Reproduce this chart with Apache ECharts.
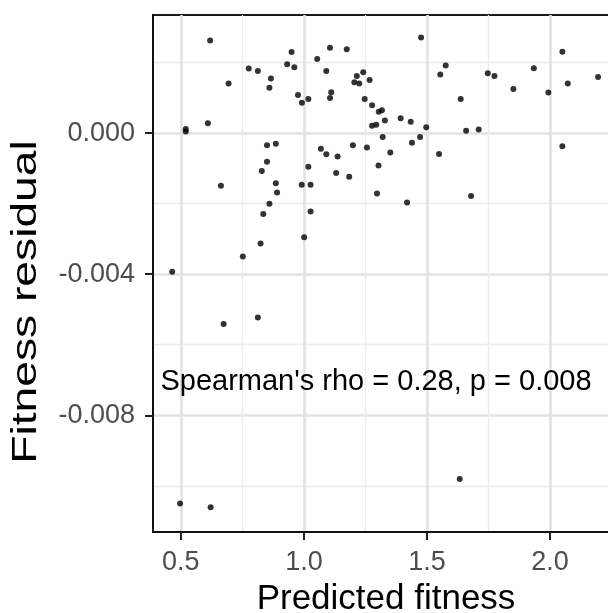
<!DOCTYPE html>
<html>
<head>
<meta charset="utf-8">
<script src="https://cdn.jsdelivr.net/npm/echarts@6/dist/echarts.min.js"></script>
<style>
html,body{margin:0;padding:0;background:#fff;}
#chart{width:608px;height:613px;}
</style>
</head>
<body>
<div id="chart"></div>
<script>
// Predicted fitness (x) and fitness residual (y)
const predictedFitness = [
  0.619, 0.950, 1.106, 1.174, 1.054, 0.932, 0.961, 0.776, 0.813, 1.091,
  0.866, 0.860, 0.694, 1.215, 1.241, 1.205, 1.225, 1.267, 0.976, 0.992,
  1.018, 1.111, 1.106, 1.247, 1.277, 1.304, 1.317, 0.520, 0.520, 0.610,
  1.277, 1.294, 0.850, 0.886, 0.850, 0.829, 1.069, 1.091, 1.137, 1.199,
  1.256, 1.018, 1.131, 1.184, 1.303, 0.663, 0.886, 0.891, 0.991, 1.027,
  1.297, 1.476, 2.050, 1.576, 1.554, 1.747, 1.774, 1.934, 2.195, 2.072,
  1.851, 1.993, 1.637, 1.329, 1.393, 1.434, 1.497, 1.659, 1.710, 1.320,
  1.472, 1.439, 2.050, 1.351, 1.549, 1.679, 0.860, 0.835, 1.027, 0.824,
  0.752, 1.001, 0.465, 0.813, 0.674, 1.419, 0.497, 0.621, 1.633
];
const fitnessResidual = [
  0.00263, 0.00230, 0.00242, 0.00238, 0.00210, 0.00195, 0.00187, 0.00183, 0.00176, 0.00176,
  0.00155, 0.00129, 0.00141, 0.00162, 0.00173, 0.00144, 0.00141, 0.00151, 0.00108, 0.00086,
  0.00097, 0.00116, 0.00100, 0.00097, 0.00079, 0.00061, 0.00065, 0.00012, 0.00005, 0.00028,
  0.00021, 0.00024, -0.00034, -0.00030, -0.00081, -0.00107, -0.00044, -0.00060, -0.00066, -0.00034,
  -0.00041, -0.00095, -0.00113, -0.00124, -0.00092, -0.00149, -0.00142, -0.00168, -0.00146, -0.00146,
  -0.00171, 0.00271, 0.00231, 0.00192, 0.00166, 0.00170, 0.00162, 0.00184, 0.00159, 0.00141,
  0.00125, 0.00115, 0.00097, 0.00036, 0.00042, 0.00032, 0.00017, 0.00007, 0.00010, -0.00011,
  -0.00011, -0.00027, -0.00037, -0.00055, -0.00059, -0.00178, -0.00200, -0.00229, -0.00222, -0.00313,
  -0.00350, -0.00295, -0.00393, -0.00523, -0.00541, -0.00197, -0.01050, -0.01061, -0.00981
];
const xMajorTicks = [0.5, 1.0, 1.5, 2.0];
const xMinorTicks = [0.75, 1.25, 1.75, 2.25];
const yMajorTicks = [0.000, -0.004, -0.008];
const yMinorTicks = [0.002, -0.002, -0.006, -0.010];
const xTitle = 'Predicted fitness';
const yTitle = 'Fitness residual';
const annotationText = "Spearman's rho = 0.28, p = 0.008";

const points = predictedFitness.map((x, i) => [x, fitnessResidual[i]]);

const FONT = '"Liberation Sans", Arial, Helvetica, sans-serif';
const X_MIN = 0.387, X_MAX = 2.28, Y_MIN = -0.01131, Y_MAX = 0.00335;

const chart = echarts.init(document.getElementById('chart'), null, {renderer: 'canvas'});
chart.setOption({
  backgroundColor: '#ffffff',
  animation: false,
  grid: {
    left: 153, top: 15, width: 466, height: 517,
    outerBoundsMode: 'none', containLabel: false,
    show: true, borderColor: '#1a1a1a', borderWidth: 2, backgroundColor: 'transparent'
  },
  xAxis: [
    {
      type: 'value', min: X_MIN, max: X_MAX, position: 'bottom',
      axisLine: {show: true, onZero: false, lineStyle: {color: '#111', width: 2}},
      axisTick: {show: true, customValues: xMajorTicks, length: 8, lineStyle: {color: '#222', width: 2}},
      axisLabel: {show: true, customValues: xMajorTicks, margin: 17, color: '#4d4d4d', fontSize: 27,
                  fontFamily: FONT, formatter: v => v.toFixed(1)},
      splitLine: {show: true, lineStyle: {color: '#e2e2e2', width: 2.6}}
    },
    {
      type: 'value', min: X_MIN, max: X_MAX, position: 'bottom',
      axisLine: {show: false},
      axisTick: {show: false, customValues: xMinorTicks},
      axisLabel: {show: false, customValues: xMinorTicks},
      splitLine: {show: true, lineStyle: {color: '#ececec', width: 1.3}}
    }
  ],
  yAxis: [
    {
      type: 'value', min: Y_MIN, max: Y_MAX, position: 'left',
      axisLine: {show: true, onZero: false, lineStyle: {color: '#111', width: 2}},
      axisTick: {show: true, customValues: yMajorTicks, length: 8, lineStyle: {color: '#222', width: 2}},
      axisLabel: {show: true, customValues: yMajorTicks, margin: 18, color: '#4d4d4d', fontSize: 27,
                  fontFamily: FONT, formatter: v => v.toFixed(3)},
      splitLine: {show: true, lineStyle: {color: '#e2e2e2', width: 2.6}}
    },
    {
      type: 'value', min: Y_MIN, max: Y_MAX, position: 'left',
      axisLine: {show: false},
      axisTick: {show: false, customValues: yMinorTicks},
      axisLabel: {show: false, customValues: yMinorTicks},
      splitLine: {show: true, lineStyle: {color: '#ececec', width: 1.3}}
    }
  ],
  series: [{
    type: 'scatter',
    xAxisIndex: 0, yAxisIndex: 0,
    data: points,
    symbol: 'circle',
    symbolSize: 6,
    itemStyle: {color: '#000'},
    z: 3
  }],
  graphic: [
    {type: 'text', x: 386, y: 599, z: 10,
     style: {text: xTitle, font: '35px ' + FONT, fill: '#000', textAlign: 'center', textVerticalAlign: 'middle'}},
    {type: 'text', x: 26, y: 302, rotation: Math.PI / 2, scaleX: 1.32, z: 10,
     style: {text: yTitle, font: '35px ' + FONT, fill: '#000', textAlign: 'center', textVerticalAlign: 'middle'}},
    {type: 'text', x: 376, y: 382, z: 10,
     style: {text: annotationText, font: '29px ' + FONT, fill: '#000', textAlign: 'center', textVerticalAlign: 'middle'}}
  ]
});
</script>
</body>
</html>
